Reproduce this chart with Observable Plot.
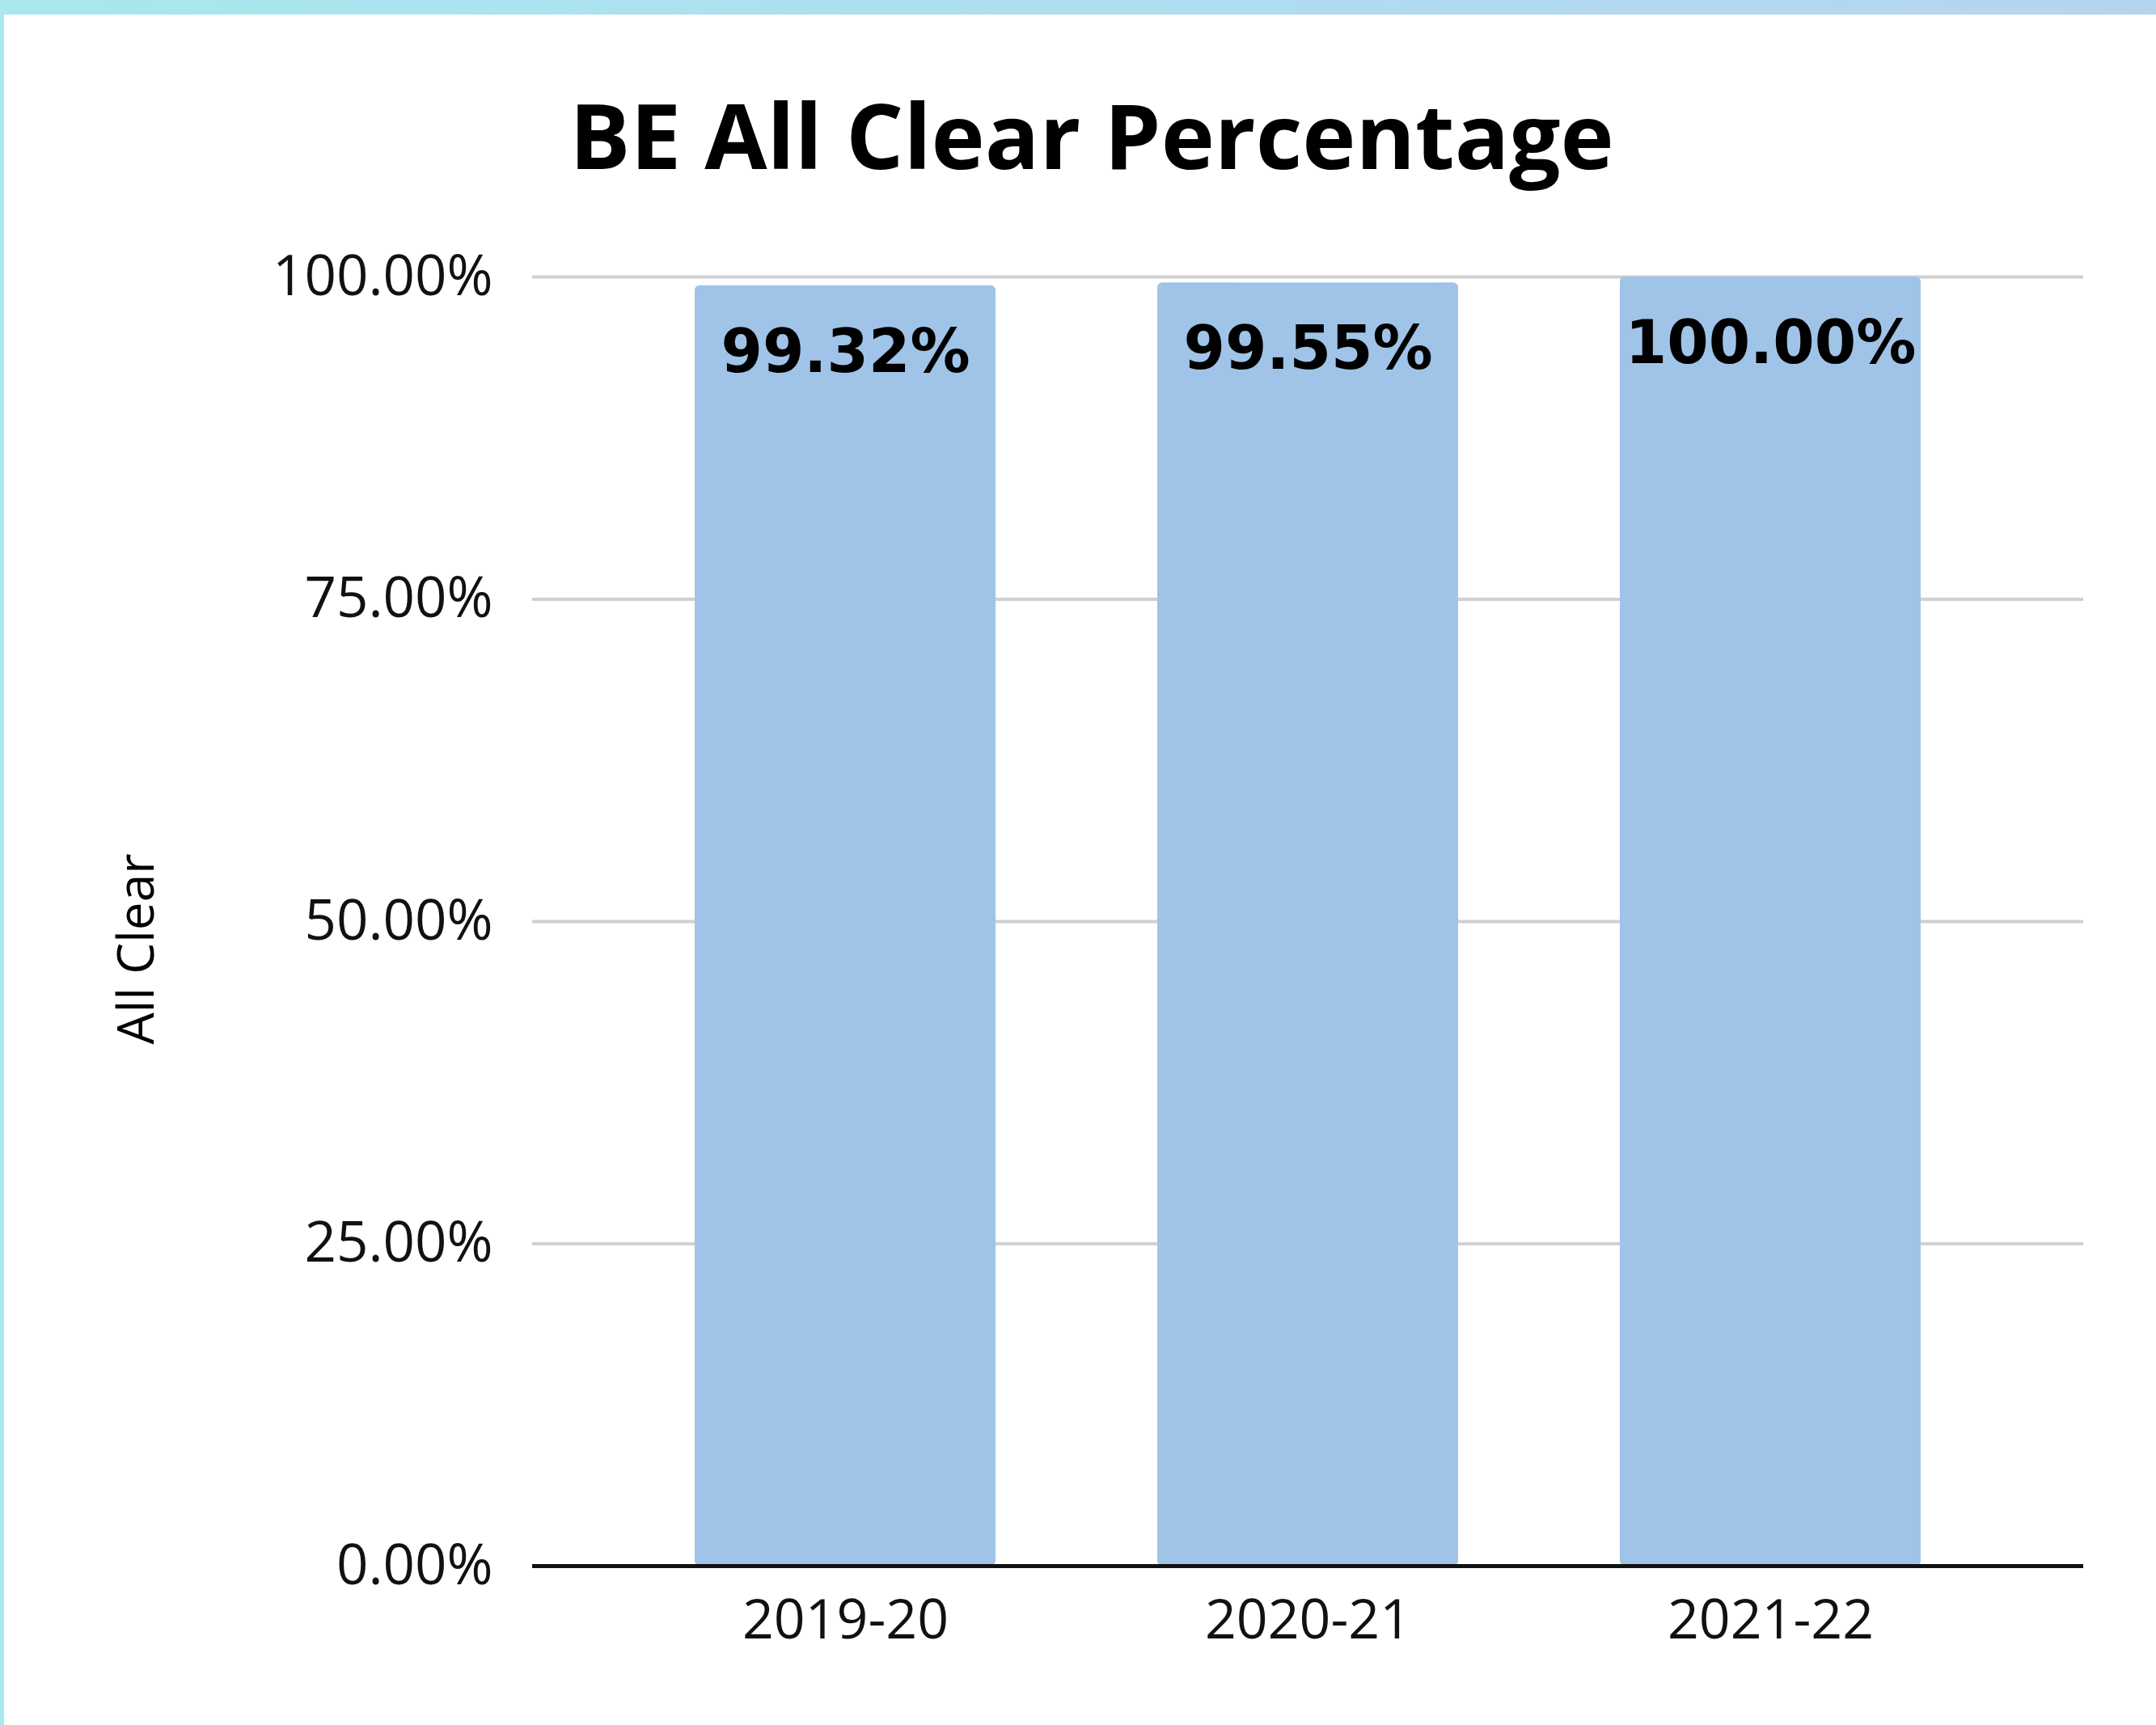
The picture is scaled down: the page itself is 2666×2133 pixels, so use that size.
<!DOCTYPE html>
<html>
<head>
<meta charset="utf-8">
<script src="https://cdn.jsdelivr.net/npm/d3@7"></script>
<script src="https://cdn.jsdelivr.net/npm/@observablehq/plot@0.6"></script>
<style>
  html, body { margin: 0; padding: 0; background: #ffffff; }
  #page { position: relative; width: 2666px; height: 2133px; overflow: hidden; background: #ffffff; }
  #topband { position: absolute; left: 0; top: 0; width: 2666px; height: 18px;
    background: linear-gradient(to right, #a8e8ee, #b6d4f0); z-index: 3; }
  #leftband { position: absolute; left: 0; top: 0; width: 5px; height: 2133px; background: #a8e8ee; z-index: 3; }
  #title { position: absolute; left: 0; width: 2700px; top: 96px; text-align: center;
    font-family: "Open Sans", sans-serif; font-weight: 700; font-size: 112px; line-height: 140px; color: #000; z-index: 2; }
  #chart { position: absolute; left: 0; top: 0; }
</style>
</head>
<body>
<div id="page">
  <div id="topband"></div>
  <div id="leftband"></div>
  <div id="chart"></div>
  <div id="title">BE All Clear Percentage</div>
</div>
<script>
const years = ["2019-20", "2020-21", "2021-22"];
const values = [0.9932, 0.9955, 1.0];
const yTicks = [0, 0.25, 0.5, 0.75, 1.0];
const yLabel = "All Clear";

const data = years.map((y, i) => ({year: y, value: values[i]}));
const fmt = d3.format(".2%");

const chart = Plot.plot({
  width: 2666,
  height: 2133,
  marginLeft: 658,
  marginRight: 90,
  marginTop: 342,
  marginBottom: 197,
  style: {background: "transparent", color: "#000"},
  x: {domain: years, padding: 0.35, label: null},
  y: {domain: [0, 1], ticks: yTicks, label: null, tickFormat: fmt},
  marks: [
    Plot.gridY(yTicks, {stroke: "#d0d0d0", strokeOpacity: 1, strokeWidth: 4}),
    Plot.barY(data, {x: "year", y: "value", fill: "#a0c4e8", rx: 6}),
    Plot.ruleY([0], {stroke: "#111", strokeWidth: 5}),
    Plot.axisY(yTicks, {tickSize: 0, tickPadding: 49, fontSize: 69, fontFamily: "Open Sans", tickFormat: fmt, fill: "#111", label: null}),
    Plot.axisX(years, {tickSize: 0, tickPadding: 41, fontSize: 68, fontFamily: "Open Sans", fill: "#111", label: null}),
    Plot.text(data, {x: "year", y: "value", text: d => fmt(d.value), dy: 83,
      fontSize: 74, fontWeight: "bold", fontFamily: "DejaVu Sans", fill: "#000", lineAnchor: "middle"}),
    Plot.text([yLabel], {frameAnchor: "left", dx: -488, dy: 34, rotate: -90, text: d => d,
      textAnchor: "middle", fontSize: 62, fontFamily: "Open Sans", fill: "#000", lineAnchor: "middle"})
  ]
});
document.getElementById("chart").appendChild(chart);
</script>
</body>
</html>
